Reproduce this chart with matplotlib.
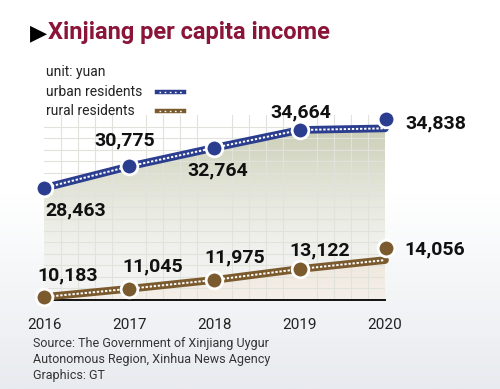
import numpy as np
import matplotlib
matplotlib.use('Agg')
import matplotlib.pyplot as plt
from matplotlib.colors import to_rgb
from matplotlib.lines import Line2D
from matplotlib.transforms import ScaledTranslation

plt.rcParams['font.family'] = ['Roboto', 'DejaVu Sans']

# data
years = [2016, 2017, 2018, 2019, 2020]
urban = [28463, 30775, 32764, 34664, 34838]
rural = [10183, 11045, 11975, 13122, 14056]
urban_labels = ['28,463', '30,775', '32,764', '34,664', '34,838']
rural_labels = ['10,183', '11,045', '11,975', '13,122', '14,056']

BLUE = '#2b3d8e'
BROWN = '#7b5a2e'
TITLE_RED = '#8a1538'

fig = plt.figure(figsize=(5, 3.89), dpi=100)

# page background: white fading to a light grey at the bottom
bg = fig.add_axes([0, 0, 1, 1], zorder=-10)
grad = np.linspace(0, 1, 256)[:, None]
c_top = np.array(to_rgb('#ffffff'))
c_bot = np.array(to_rgb('#e8ebef'))
w = np.clip((grad - 0.5) / 0.5, 0, 1)
bg_img = c_top[None, None, :] * (1 - w[..., None]) + c_bot[None, None, :] * w[..., None]
bg.imshow(bg_img, aspect='auto', extent=[0, 1, 0, 1], origin='upper')
bg.set_axis_off()

# main plot area (urban scale), rural scale on a hidden twin
ax = fig.add_axes([0.088, 0.2288, 0.682, 0.4756])
ax.patch.set_alpha(0)
ax_r = ax.twinx()
ax_r.set_visible(False)
ax.set_xlim(2016, 2020)
ax.set_ylim(16488, 36268)
ax_r.set_ylim(9868, 29287)

# gradient fills clipped to the areas under the lines
def gradient_fill(yvals, transform, c1, c2, a_top, a_bot):
    poly = ax.fill_between(years, yvals, -1e6, transform=transform,
                           facecolor='none', edgecolor='none')
    g = np.linspace(0, 1, 256)[:, None]
    c1 = np.array(to_rgb(c1)); c2 = np.array(to_rgb(c2))
    rgba = np.zeros((256, 1, 4))
    rgba[..., :3] = (c1 * (1 - g[..., None]) + c2 * g[..., None])
    rgba[..., 3] = (a_top * (1 - g) + a_bot * g)
    im = ax.imshow(rgba, aspect='auto', extent=[0, 1, 0, 1], origin='upper',
                   transform=ax.transAxes, zorder=0.8)
    im.set_clip_path(poly.get_paths()[0], poly.get_transform())

gradient_fill(urban, ax.transData, '#c4c8ad', '#f6f6f2', 1.0, 0.3)
gradient_fill(rural, ax_r.transData, '#dccdb8', '#f4efe8', 1.0, 1.0)

# grid
ax.set_xticks(np.arange(2016, 2020.01, 0.2), minor=True)
ax.set_yticks(np.linspace(16488, 36268, 17)[:-1], minor=True)
ax.set_axisbelow('line')
ax.grid(which='minor', color='#e2e2dc', linewidth=0.8)
ax.tick_params(which='both', length=0)
ax.set_yticks([])
ax.set_xticks(years)
ax.set_xticklabels([str(y) for y in years], fontsize=11, color='#222222')
ax.tick_params(axis='x', pad=13)
for s in ['top', 'right', 'left']:
    ax.spines[s].set_visible(False)
ax.spines['bottom'].set_color('#111111')
ax.spines['bottom'].set_linewidth(1.4)

# lines with white dotted centre
def draw_series(vals, transform, color, labels, offsets, last_shift):
    ax.plot(years, vals, color=color, lw=5.5, solid_capstyle='round',
            transform=transform, zorder=3, clip_on=False)
    ax.plot(years, vals, color='white', lw=1.4, linestyle=(0, (1.2, 0.9)),
            transform=transform, zorder=3.1, clip_on=False)
    ax.plot(years[:-1], vals[:-1], 'o', ms=12, mfc=color, mec='white', mew=2,
            transform=transform, zorder=4, clip_on=False)
    shifted = transform + ScaledTranslation(0.01, last_shift / 100, fig.dpi_scale_trans)
    ax.plot(years[-1:], vals[-1:], 'o', ms=12, mfc=color, mec='white', mew=2,
            transform=shifted, zorder=4, clip_on=False)
    for i, (x, v, t) in enumerate(zip(years, vals, labels)):
        dx, dy, ha = offsets[i]
        ax.annotate(t, xy=(x, v), xycoords=transform, xytext=(dx, dy),
                    textcoords='offset pixels', ha=ha, va='center',
                    fontsize=14, fontweight='bold', color='#111111',
                    annotation_clip=False, zorder=5)

draw_series(urban, ax.transData, BLUE, urban_labels,
            [(32, -22, 'center'), (-5, 26, 'center'), (3, -23, 'center'),
             (1, 18, 'center'), (20, 5, 'left')], 9)
draw_series(rural, ax_r.transData, BROWN, rural_labels,
            [(24, 22, 'center'), (23, 22, 'center'), (20, 22, 'center'),
             (20, 19, 'center'), (19, 11, 'left')], 12)

# title
fig.text(30 / 500, 1 - 33 / 389, '\u25B6', fontsize=16, color='black',
         va='center', ha='left', family=['DejaVu Sans'])
fig.text(48 / 500, 1 - 33 / 389, 'Xinjiang per capita income', fontsize=17,
         fontweight='bold', color=TITLE_RED, va='center', ha='left')

# legend block
fig.text(46 / 500, 1 - 72 / 389, 'unit: yuan', fontsize=10, color='#222222', va='center')
fig.text(46 / 500, 1 - 92 / 389, 'urban residents', fontsize=10, color='#222222', va='center')
fig.text(46 / 500, 1 - 111 / 389, 'rural residents', fontsize=10, color='#222222', va='center')
for ypx, col in [(92, BLUE), (111, BROWN)]:
    yy = 1 - ypx / 389
    fig.add_artist(Line2D([157 / 500, 184 / 500], [yy, yy], color=col, lw=3.2,
                          transform=fig.transFigure))
    fig.add_artist(Line2D([159 / 500, 182 / 500], [yy, yy], color='white', lw=1,
                          linestyle=(0, (1.2, 2.5)), transform=fig.transFigure))

# source
src = ['Source: The Government of Xinjiang Uygur',
       'Autonomous Region, Xinhua News Agency',
       'Graphics: GT']
for i, line in enumerate(src):
    fig.text(33 / 500, 1 - (344 + i * 15.5) / 389, line, fontsize=9,
             color='#333333', va='center')

fig.savefig('out.png', dpi=100)
